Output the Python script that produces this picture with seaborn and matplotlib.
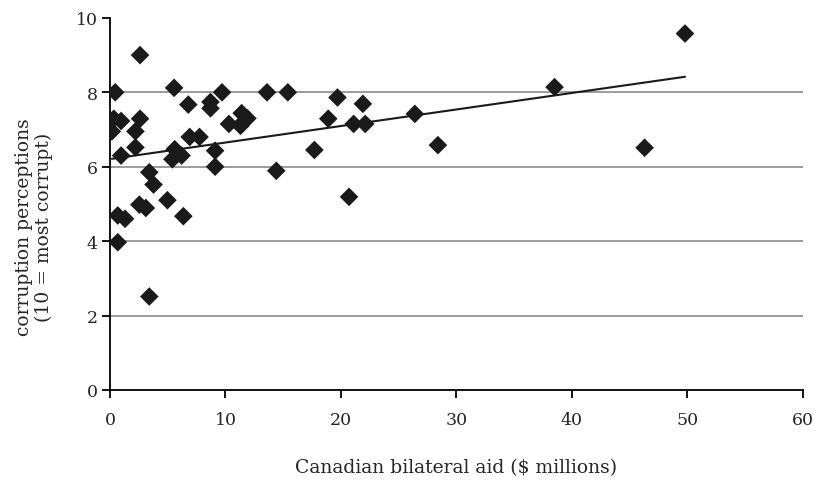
import numpy as np
import pandas as pd
import matplotlib
matplotlib.use("Agg")
import matplotlib.pyplot as plt
import seaborn as sns

# Canadian bilateral aid ($ millions) vs corruption perception score
aid = [0.45, 2.6, 5.55, 9.7, 13.6, 15.4, 6.78, 8.7, 8.7, 0.33,
       0.96, 2.6, 0.16, 2.2, 2.2, 0.96, 10.3, 11.3, 11.4, 11.9,
       11.6, 6.9, 7.75, 5.6, 6.2, 5.4, 9.1, 9.1, 14.4, 17.7,
       3.4, 3.77, 4.97, 2.54, 3.1, 0.67, 1.3, 6.35, 0.67, 3.4,
       18.9, 19.7, 20.7, 21.1, 21.9, 22.1, 26.4, 28.4, 38.5, 46.3,
       49.8]
corruption = [8.0, 9.0, 8.12, 8.0, 8.0, 8.0, 7.67, 7.74, 7.57, 7.29,
              7.23, 7.29, 6.95, 6.95, 6.52, 6.3, 7.15, 7.1, 7.44, 7.3,
              7.22, 6.8, 6.8, 6.47, 6.3, 6.2, 6.43, 6.0, 5.89, 6.45,
              5.85, 5.52, 5.1, 4.98, 4.89, 4.69, 4.6, 4.67, 3.97, 2.51,
              7.29, 7.86, 5.19, 7.15, 7.69, 7.15, 7.42, 6.58, 8.14, 6.51,
              9.58]

x_ticks = [0, 10, 20, 30, 40, 50, 60]
y_ticks = [0, 2, 4, 6, 8, 10]

df = pd.DataFrame({"aid": aid, "corruption": corruption})

sns.set_style("white")
plt.rcParams["font.family"] = ["DejaVu Serif"]

fig = plt.figure(figsize=(8.15, 4.85), dpi=100)
ax = fig.add_axes([0.135, 0.194, 0.850, 0.767])

for yv in y_ticks[1:-1]:
    ax.axhline(yv, color="#808080", linewidth=1.1, zorder=0)

sns.scatterplot(data=df, x="aid", y="corruption", marker="D", s=90,
                color="#1a1a1a", edgecolor="none", ax=ax, zorder=3)

# linear trendline across the data range
slope, intercept = np.polyfit(df["aid"], df["corruption"], 1)
xs = np.array([df["aid"].min(), df["aid"].max()])
ax.plot(xs, intercept + slope * xs, color="#1a1a1a", linewidth=1.5, zorder=2)

ax.set_xlim(0, 60)
ax.set_ylim(0, 10)
ax.set_xticks(x_ticks)
ax.set_yticks(y_ticks)
for s in ["top", "right"]:
    ax.spines[s].set_visible(False)
for s in ["left", "bottom"]:
    ax.spines[s].set_color("black")
    ax.spines[s].set_linewidth(1.3)
ax.tick_params(bottom=True, left=True, direction="out", length=6, width=1.3,
               color="black", labelsize=12.5)
ax.tick_params(axis="x", pad=9)
ax.tick_params(axis="y", pad=3)

ax.set_xlabel("Canadian bilateral aid ($ millions)", fontsize=13.5, labelpad=22)
ax.set_ylabel("corruption perceptions\n(10 = most corrupt)", fontsize=13.5,
              linespacing=1.1)
ax.yaxis.set_label_coords(-0.083, 0.44)

fig.savefig("out.png", dpi=100)
